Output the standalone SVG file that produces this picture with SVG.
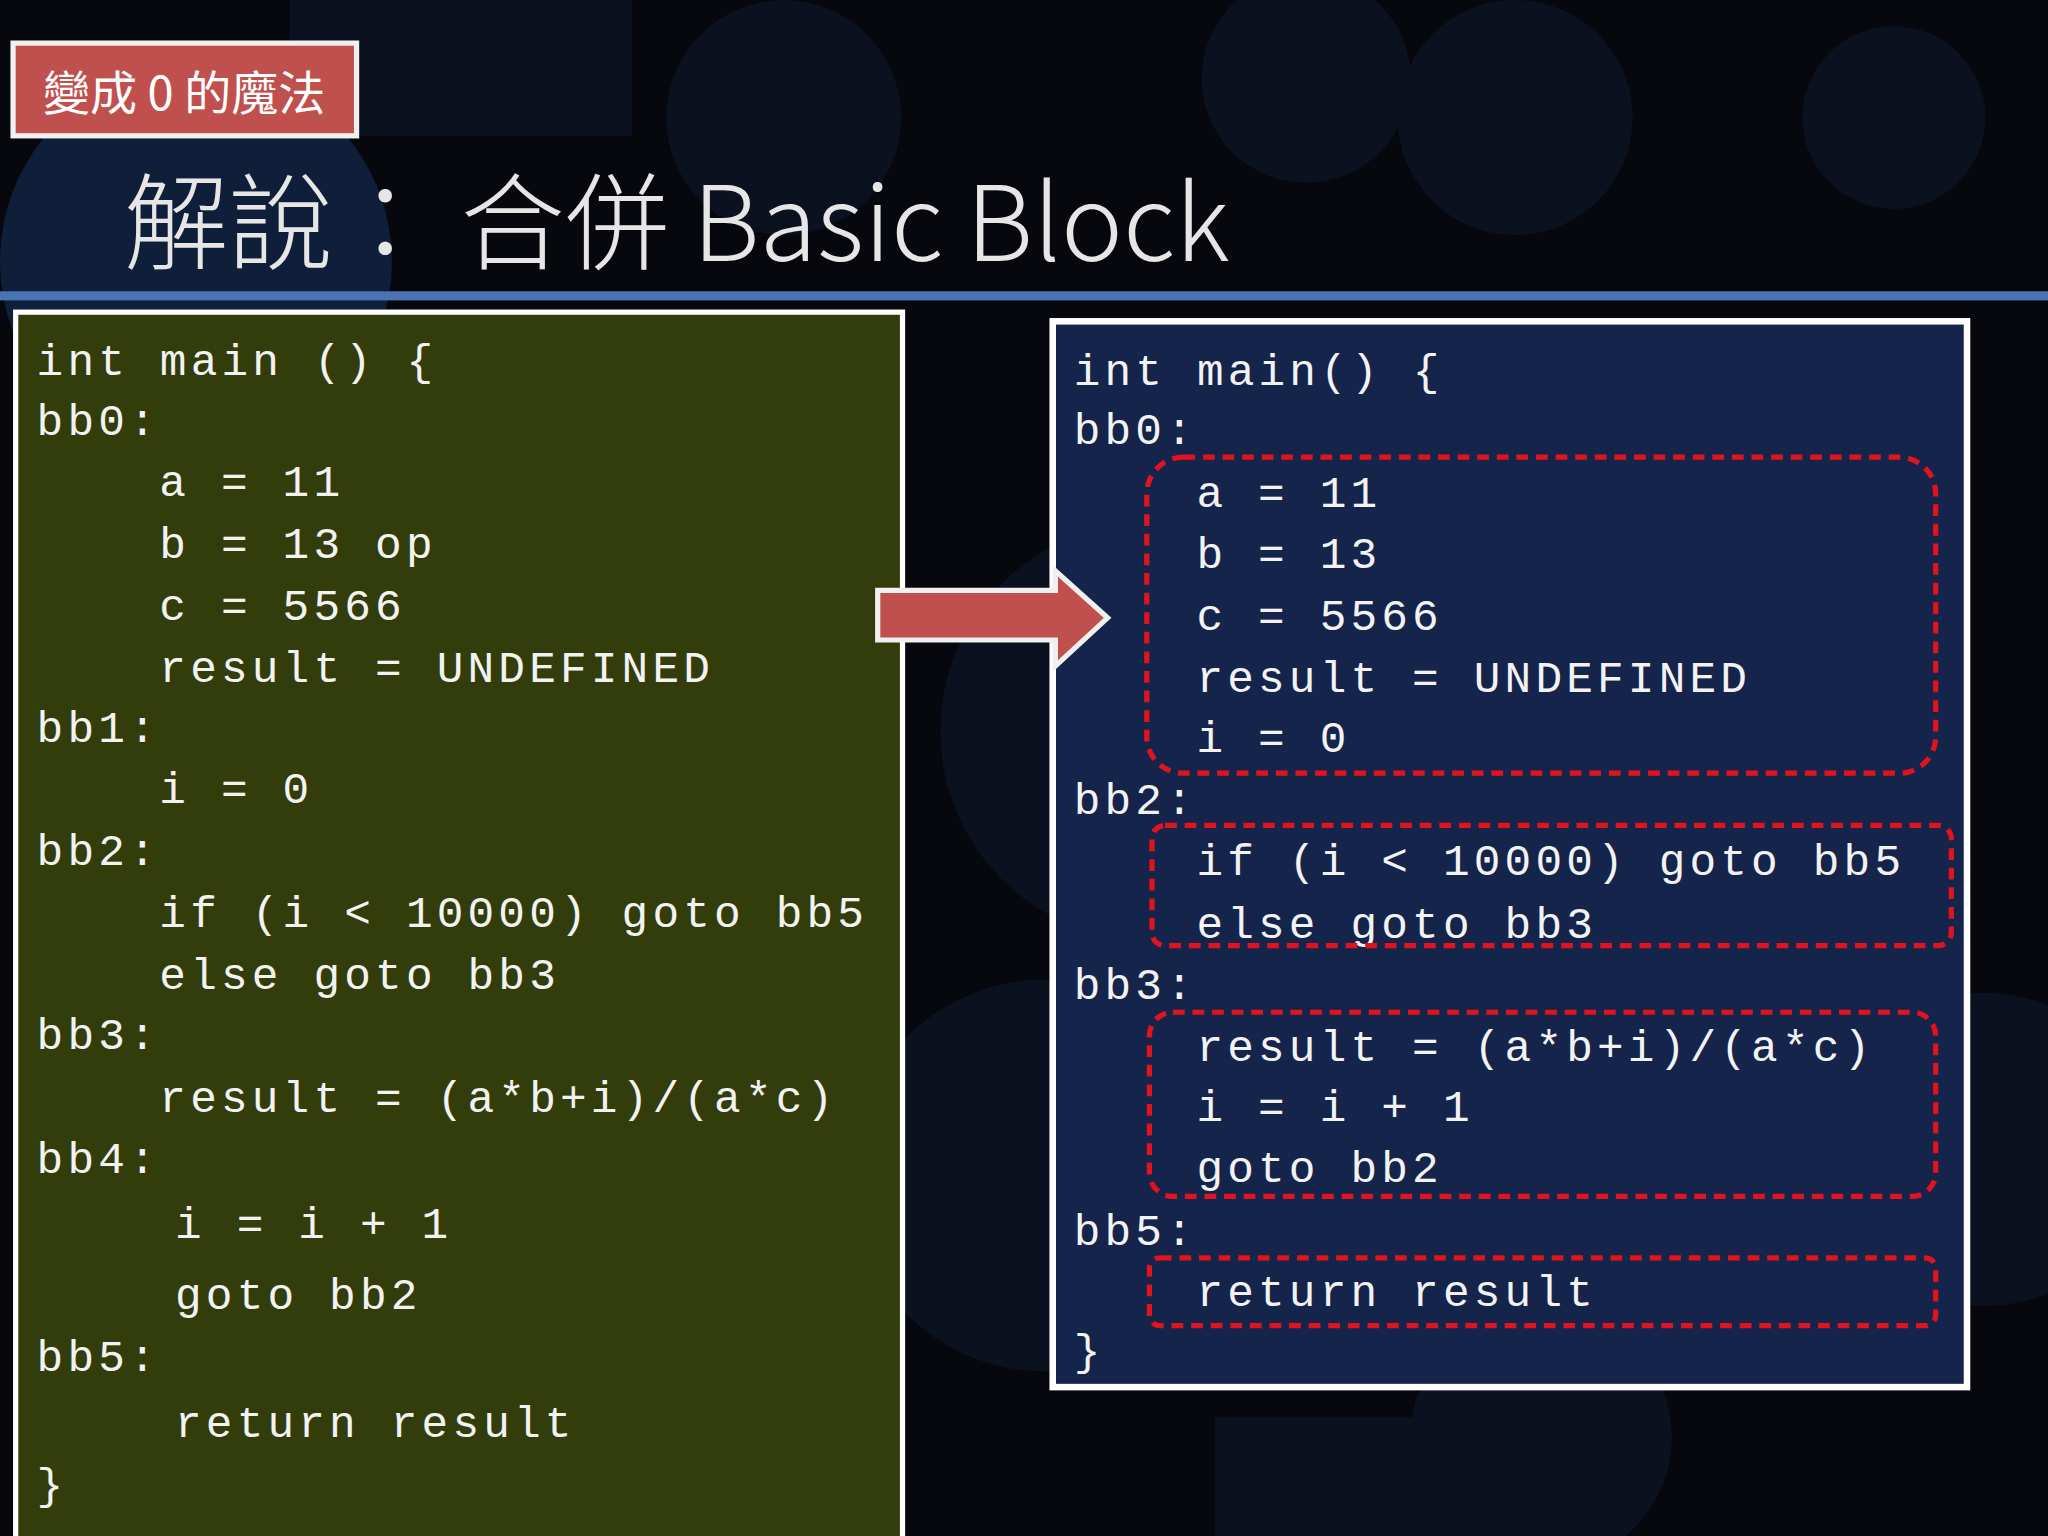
<svg xmlns="http://www.w3.org/2000/svg" width="2048" height="1536" viewBox="0 0 2048 1536">
<style>
.c{font-family:"Liberation Mono","DejaVu Sans Mono",monospace;font-size:34px;letter-spacing:3.2px;fill:#f2f2f2}
.d{fill:none;stroke:#e0141e;stroke-width:4;stroke-dasharray:9 6}
</style>
<g transform="scale(1.30612)">
<rect width="1568" height="1176" fill="#07080d"/>
<g fill="#0c1120">
<circle cx="150" cy="200" r="150" fill="#0f1f3a"/>
<circle cx="600" cy="90" r="90"/>
<circle cx="1000" cy="60" r="80"/>
<circle cx="1160" cy="90" r="90"/>
<circle cx="1450" cy="90" r="70"/>
<circle cx="880" cy="560" r="160"/>
<circle cx="800" cy="900" r="150"/>
<circle cx="1180" cy="1100" r="100"/>
<circle cx="1520" cy="880" r="120"/>
<rect x="222" y="0" width="262" height="104"/>
<rect x="930" y="1085" width="260" height="91"/>
</g>
<rect x="0" y="223" width="1568" height="7" fill="#4b73b4"/>
<g id="label">
<rect x="10" y="33" width="263" height="71" fill="#c0504d" stroke="#f0f0f0" stroke-width="4"/>
<text x="141" y="84" text-anchor="middle" font-family="'Noto Sans CJK TC',sans-serif" font-size="36" fill="#fff">變成 0 的魔法</text>
</g>
<text id="title" x="95" y="200" font-family="'Noto Sans CJK TC','Noto Sans',sans-serif" font-size="80" font-weight="300" fill="#e6e6e6">解說：&#160;合併 Basic Block</text>
<g id="left">
<rect x="12" y="239" width="679" height="945" fill="#333d0b" stroke="#fff" stroke-width="4"/>
<text class="c" x="28" y="287">int main () {</text>
<text class="c" x="28" y="333">bb0:</text>
<text class="c" x="122" y="380">a = 11</text>
<text class="c" x="122" y="427">b = 13 op</text>
<text class="c" x="122" y="475">c = 5566</text>
<text class="c" x="122" y="522">result = UNDEFINED</text>
<text class="c" x="28" y="568">bb1:</text>
<text class="c" x="122" y="615">i = 0</text>
<text class="c" x="28" y="662">bb2:</text>
<text class="c" x="122" y="710">if (i &lt; 10000) goto bb5</text>
<text class="c" x="122" y="757">else goto bb3</text>
<text class="c" x="28" y="803">bb3:</text>
<text class="c" x="122" y="851">result = (a*b+i)/(a*c)</text>
<text class="c" x="28" y="898">bb4:</text>
<text class="c" x="134" y="948">i = i + 1</text>
<text class="c" x="134" y="1002">goto bb2</text>
<text class="c" x="28" y="1050">bb5:</text>
<text class="c" x="134" y="1100">return result</text>
<text class="c" x="28" y="1148">}</text>
</g>
<g id="right">
<rect x="806" y="246" width="700" height="816" fill="#14244b" stroke="#fff" stroke-width="5"/>
<text class="c" x="822" y="295">int main() {</text>
<text class="c" x="822" y="340">bb0:</text>
<text class="c" x="916" y="388">a = 11</text>
<text class="c" x="916" y="435">b = 13</text>
<text class="c" x="916" y="482">c = 5566</text>
<text class="c" x="916" y="530">result = UNDEFINED</text>
<text class="c" x="916" y="576">i = 0</text>
<text class="c" x="822" y="623">bb2:</text>
<text class="c" x="916" y="670">if (i &lt; 10000) goto bb5</text>
<text class="c" x="916" y="718">else goto bb3</text>
<text class="c" x="822" y="765">bb3:</text>
<text class="c" x="916" y="812">result = (a*b+i)/(a*c)</text>
<text class="c" x="916" y="858">i = i + 1</text>
<text class="c" x="916" y="905">goto bb2</text>
<text class="c" x="822" y="953">bb5:</text>
<text class="c" x="916" y="1000">return result</text>
<text class="c" x="822" y="1045">}</text>
<rect class="d" x="878" y="350" width="604" height="242" rx="28"/>
<rect class="d" x="882" y="632" width="612" height="92" rx="10"/>
<rect class="d" x="880" y="775" width="602" height="141" rx="18"/>
<rect class="d" x="880" y="963" width="602" height="52" rx="8"/>
</g>
<g id="arrow">
<path d="M672,452 L808,452 L808,437 L848,473 L808,510 L808,490 L672,490 Z" fill="#c0504d" stroke="#f0f0f0" stroke-width="4" stroke-linejoin="miter"/>
</g>
</g>
</svg>
